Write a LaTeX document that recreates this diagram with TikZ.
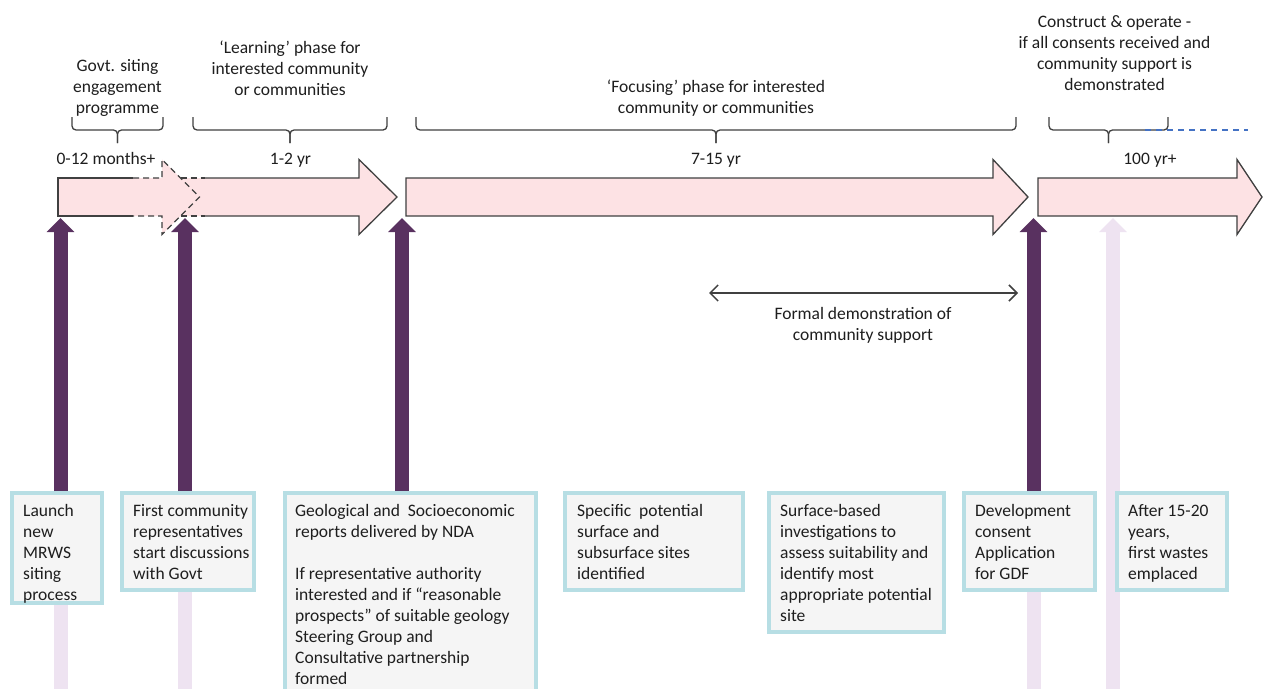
\documentclass[tikz,border=0pt]{standalone}
\usepackage{fontspec}
\setmainfont{Carlito}
\usetikzlibrary{arrows.meta,calc}
\definecolor{bandfill}{RGB}{253,226,228}
\definecolor{bandline}{RGB}{64,64,64}
\definecolor{stepviolet}{RGB}{89,49,96}
\definecolor{steppale}{RGB}{238,227,241}
\definecolor{cardfill}{RGB}{245,245,245}
\definecolor{cardline}{RGB}{183,222,228}
\definecolor{inkgray}{RGB}{30,30,30}
\definecolor{dashblue}{RGB}{68,114,196}

\begin{document}
\begin{tikzpicture}[x=1pt,y=-1pt,
  every node/.style={inner sep=0pt, text=inkgray, font=\fontsize{17.5}{21}\selectfont},
  band/.style={fill=bandfill, draw=none},
  bandedge/.style={draw=bandline, line width=1.3pt, line join=miter},
  banddash/.style={bandedge, dash pattern=on 6pt off 4pt},
  bracket/.style={draw=bandline, line width=1.3pt, rounded corners=4pt},
  card/.style={draw=cardline, line width=4pt, fill=cardfill, anchor=north west},
  cardtext/.style={anchor=north west, align=left, xshift=13pt, yshift=-10.3pt},
  phase/.style={anchor=north, align=center},
  span/.style={anchor=base},
  riser/.style={draw=stepviolet, line width=14pt, -{Triangle[length=14pt,width=27pt]}},
  palerise/.style={draw=steppale, line width=14pt, -{Triangle[length=14pt,width=27pt]}},
  paleshaft/.style={draw=steppale, line width=14pt},
  twoway/.style={draw=bandline, line width=1.5pt,
    {Straight Barb[length=8pt,width=16pt]}-{Straight Barb[length=8pt,width=16pt]}},
  extension/.style={draw=dashblue, line width=1.2pt, dash pattern=on 6pt off 5pt}
]
\fill[white] (0,0) rectangle (1263,688);
\clip (0,0) rectangle (1263,688);

% ---- time bands ----
% 'Learning' band with the overlapping engagement head
\fill[band] (58,178) -- (359,178) -- (359,159.5) -- (397,197) -- (359,234.5) -- (359,216) -- (58,216) -- cycle;
\fill[band] (162,178) -- (162,159.5) -- (199.5,197) -- (162,234.5) -- (162,216) -- cycle;
\draw[bandedge] (133,178) -- (58,178) -- (58,216) -- (133,216);
\draw[banddash] (133,178) -- (162,178) -- (162,159.5) -- (199.5,197) -- (162,234.5) -- (162,216) -- (133,216);
\draw[banddash] (180.5,178) -- (205,178);
\draw[banddash] (180.5,216) -- (205,216);
\draw[bandedge] (205,178) -- (359,178) -- (359,159.5) -- (397,197) -- (359,234.5) -- (359,216) -- (205,216);
% 'Focusing' band
\draw[bandedge, fill=bandfill] (406,178) -- (993,178) -- (993,159.5) -- (1028,197) -- (993,234.5) -- (993,216) -- (406,216) -- cycle;
% construct & operate band
\draw[bandedge, fill=bandfill] (1038,178) -- (1237,178) -- (1237,159.5) -- (1262,197) -- (1237,234.5) -- (1237,216) -- (1038,216) -- cycle;

% ---- brackets over the bands ----
\draw[bracket] (72,117) |- (117.5,130) -- (117.5,143);
\draw[bracket] (163,117) |- (117.5,130) -- (117.5,143);
\draw[bracket] (193,117) |- (290,130) -- (290,143);
\draw[bracket] (387,117) |- (290,130) -- (290,143);
\draw[bracket] (416,117) |- (716,130) -- (716,143);
\draw[bracket] (1016,117) |- (716,130) -- (716,143);
\draw[bracket] (1049,117) |- (1108.5,130) -- (1108.5,143);
\draw[bracket] (1168,117) |- (1108.5,130) -- (1108.5,143);
\coordinate (extA) at (1145,130);
\coordinate (extB) at (1248,130);
\draw[extension] (extA) -- (extB);

% ---- phase labels ----
\node[phase] (lab1) at (117.5,56.3) {\strut Govt. siting\\engagement\\programme};
\node[phase] (lab2) at (290,38.3) {\strut ‘Learning’ phase for\\interested community\\or communities};
\node[phase] (lab3) at (716,77.3) {\strut ‘Focusing’ phase for interested\\community or communities};
\node[phase] (lab4) at (1114.5,12.3) {\strut Construct \& operate -\\if all consents received and\\community support is\\demonstrated};
\node[span] (dur1) at (106,164) {0-12 months+};
\node[span] (dur2) at (290.5,164) {1-2 yr};
\node[span] (dur3) at (716,164) {7-15 yr};
\node[span] (dur4) at (1150,164) {100 yr+};

% ---- formal demonstration span ----
\node[phase] (formal) at (863,304.3) {\strut Formal demonstration of\\community support};
\coordinate (fdL) at (709,293);
\coordinate (fdR) at (1018,293);
\draw[twoway] (fdL) -- (fdR);

% ---- milestone arrow tips and page floor ----
\coordinate (tip1) at (60.5,218);
\coordinate (tip2) at (185,218);
\coordinate (tip3) at (402,218);
\coordinate (tip4) at (1033.5,218);
\coordinate (tip5) at (1113,218);
\coordinate (floor) at (0,692);

% future milestone, behind its card
\draw[palerise] (tip5 |- floor) -- (tip5);

% ---- milestone cards ----
\node[card, minimum width=90pt, minimum height=110pt] (c1) at (10,491) {};
\node[card, minimum width=132pt, minimum height=97pt] (c2) at (120,491) {};
\node[card, minimum width=251pt, minimum height=220pt] (c3) at (283,491) {};
\node[card, minimum width=178pt, minimum height=97pt] (c4) at (563,491) {};
\node[card, minimum width=175pt, minimum height=139pt] (c5) at (767,491) {};
\node[card, minimum width=131pt, minimum height=97pt] (c6) at (962,491) {};
\node[card, minimum width=110pt, minimum height=97pt] (c7) at (1115,491) {};

\node[cardtext] (t1) at (c1.north west) {\strut Launch\\new\\MRWS\\siting\\process};
\node[cardtext] (t2) at (c2.north west) {\strut First community\\representatives\\start discussions\\with Govt};
\node[cardtext, xshift=-1pt] (t3) at (c3.north west) {\strut Geological and~\ Socioeconomic\\reports delivered by NDA\\[21pt]If representative authority\\interested and if “reasonable\\prospects” of suitable geology\\Steering Group and\\Consultative partnership\\formed};
\node[cardtext, xshift=1pt] (t4) at (c4.north west) {\strut Specific~\ potential\\surface and\\subsurface sites\\identified};
\node[cardtext] (t5) at (c5.north west) {\strut Surface-based\\investigations to\\assess suitability and\\identify most\\appropriate potential\\site};
\node[cardtext] (t6) at (c6.north west) {\strut Development\\consent\\Application\\for GDF};
\node[cardtext] (t7) at (c7.north west) {\strut After 15-20\\years,\\first wastes\\emplaced};

% ---- milestone risers ----
\draw[riser] (c1.north -| tip1) -- (tip1);
\draw[riser] (c2.north -| tip2) -- (tip2);
\draw[riser] (c3.north -| tip3) -- (tip3);
\draw[riser] (c6.north -| tip4) -- (tip4);
\draw[paleshaft] (c1.south -| tip1) -- (tip1 |- floor);
\draw[paleshaft] (c2.south -| tip2) -- (tip2 |- floor);
\draw[paleshaft] (c6.south -| tip4) -- (tip4 |- floor);
\end{tikzpicture}
\end{document}
